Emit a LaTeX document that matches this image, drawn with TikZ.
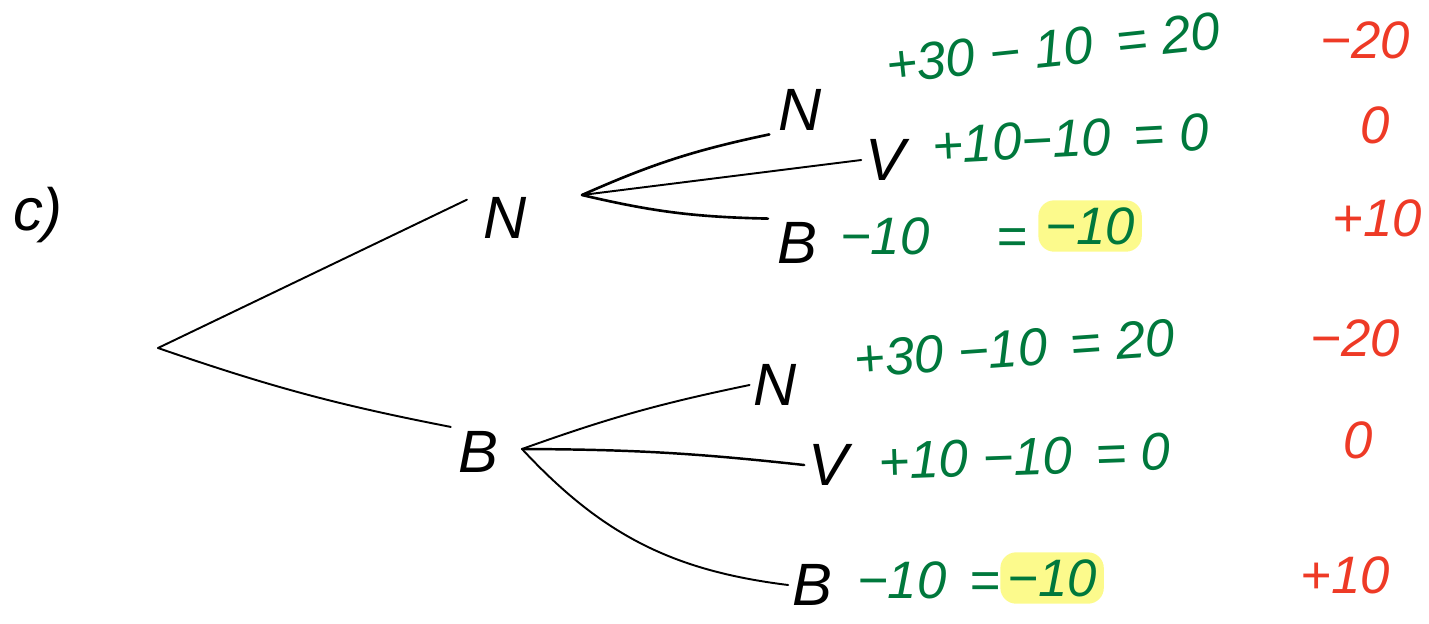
\documentclass[tikz,border=0pt]{standalone}
\usepackage{fontspec}
\setmainfont{Liberation Sans}
\definecolor{inkgreen}{RGB}{0,120,60}
\definecolor{inkred}{RGB}{238,58,38}
\definecolor{hilite}{RGB}{252,250,140}
\tikzset{
  hand/.style={font=\fontsize{34}{36}\selectfont\itshape, inner sep=2pt},
  calc/.style={font=\fontsize{30}{32}\selectfont\itshape, text=inkgreen, inner sep=1pt},
  pay/.style={font=\fontsize{30}{32}\selectfont\itshape, text=inkred, inner sep=2pt},
  branch/.style={line width=1.1pt},
  marked/.style={calc, fill=hilite, rounded corners=9pt, inner sep=4pt}
}
\begin{document}
\begin{tikzpicture}[x=0.02cm, y=-0.02cm, line cap=round, line join=round]
  \useasboundingbox (0,0) rectangle (1429,623);

  % teil c
  \node[hand] (part) at (38,215) {c)};

  % erste stufe
  \coordinate (root) at (158,348);
  \node[hand] (n1) at (505,218) {N};
  \node[hand] (b1) at (478,452) {B};
  \draw[branch, shorten >=8pt] (root) -- (n1.north west);
  \draw[branch, shorten >=2pt] (root) to[bend right=4] (b1.north west);

  % zweite stufe nach N
  \coordinate (f1) at (582,195);
  \node[hand] (n2) at (800,110) {N};
  \node[hand] (v2) at (885,160) {V};
  \node[hand] (b2) at (797,243) {B};
  \draw[branch, line width=1.5pt] (f1) to[bend left=6] ([xshift=-3pt]n2.south west);
  \draw[branch] (f1) -- (v2.west);
  \draw[branch, line width=1.5pt] (f1) to[bend right=6] ([xshift=-3pt]b2.north west);

  % zweite stufe nach B
  \coordinate (f2) at (522,449);
  \node[hand] (n3) at (775,385) {N};
  \node[hand] (v3) at (828,465) {V};
  \node[hand] (b3) at (812,585) {B};
  \draw[branch] (f2) to[bend left=4] (n3.west);
  \draw[branch, line width=1.4pt] (f2) to[bend left=3] (v3.west);
  \draw[branch] (f2) to[bend right=20] (b3.west);

  % rechnungen oben
  \node[calc, anchor=west, rotate=6] (r1) at (884,66) {+30 − 10 \,= 20};
  \node[calc, anchor=west, rotate=3] (r2) at (930,146) {+10−10 \,= 0};
  \node[calc, anchor=west] (r3) at (838,236) {−10 \quad =};
  \node[marked, anchor=west] (h3) at (1038,226) {−10};

  % rechnungen unten
  \node[calc, anchor=west, rotate=4] (r4) at (852,360) {+30 −10 \,= 20};
  \node[calc, anchor=west, rotate=2] (r5) at (877,462) {+10 −10 \,= 0};
  \node[calc, anchor=west] (r6) at (855,580) {−10 \,=};
  \node[marked, anchor=west] (h6) at (1000,578) {−10};

  % auszahlung
  \node[pay] (p1) at (1365,40) {−20};
  \node[pay] (p2) at (1375,125) {0};
  \node[pay] (p3) at (1377,218) {+10};
  \node[pay] (p4) at (1355,338) {−20};
  \node[pay] (p5) at (1358,440) {0};
  \node[pay] (p6) at (1345,575) {+10};
\end{tikzpicture}
\end{document}
